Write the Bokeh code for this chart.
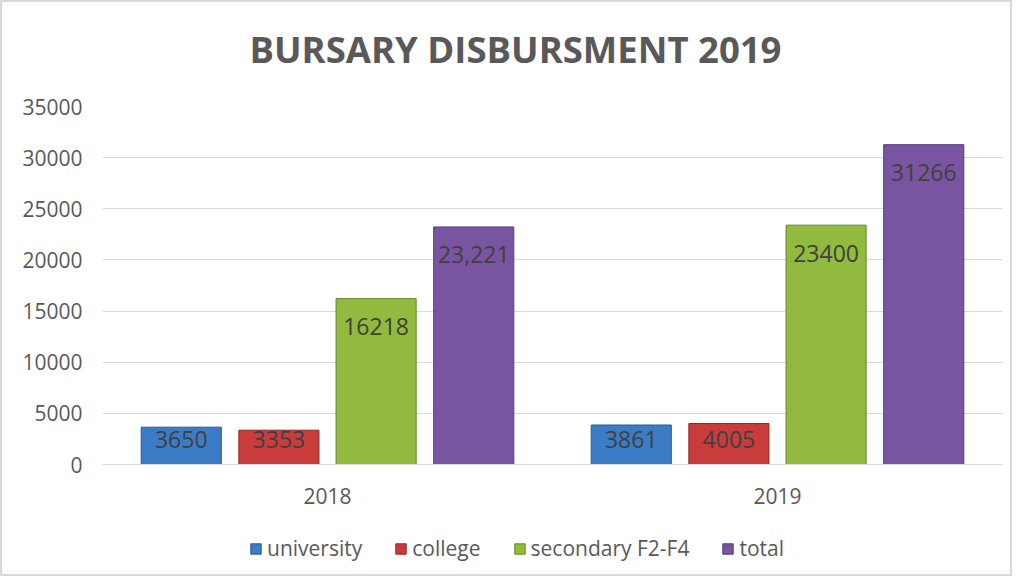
from bokeh.plotting import figure
from bokeh.layouts import column
from bokeh.models import (ColumnDataSource, FactorRange, Legend, LegendItem,
                          Range1d, FixedTicker, Label)
from bokeh.transform import dodge
from bokeh.core.properties import value
from bokeh.embed import file_html
from bokeh.resources import INLINE

# ---- data ----
title_text = "BURSARY DISBURSMENT 2019"
years = ["2018", "2019"]
series_names = ["university", "college", "secondary F2-F4", "total"]
university = [3650, 3861]
college = [3353, 4005]
secondary = [16218, 23400]
total = [23221, 31266]
labels_university = ["3650", "3861"]
labels_college = ["3353", "4005"]
labels_secondary = ["16218", "23400"]
labels_total = ["23,221", "31266"]
y_ticks = [0, 5000, 10000, 15000, 20000, 25000, 30000, 35000]

series_values = [university, college, secondary, total]
series_labels = [labels_university, labels_college, labels_secondary, labels_total]
fills = ["#3c7bc6", "#c83d3c", "#91ba3e", "#7955a1"]
lines = ["#2a5a94", "#8e2626", "#66862a", "#553b78"]
offsets = [-0.325, -0.108, 0.108, 0.325]
bar_w = 0.178

FONT = "Open Sans"
GRAY = "#595959"
W = 1008

# ---- title strip ----
tt = figure(width=W, height=80, output_backend="svg", toolbar_location=None,
            x_axis_type=None, y_axis_type=None, min_border=0,
            x_range=Range1d(0, 1), y_range=Range1d(0, 1))
tt.outline_line_color = None
tt.grid.grid_line_color = None
tt.border_fill_color = "white"
tt.add_layout(Label(x=147, y=34, x_units="screen", y_units="screen",
                    text=title_text, text_font=FONT, text_font_size="36.5px",
                    text_font_style="bold", text_color=GRAY,
                    text_baseline="middle", text_align="left"))

# ---- main chart ----
p = figure(x_range=FactorRange(*years, range_padding=0),
           y_range=Range1d(0, 35000),
           width=W, height=440,
           output_backend="svg", toolbar_location=None,
           min_border_left=100, min_border_right=8,
           min_border_top=24, min_border_bottom=58)
p.outline_line_color = None
p.background_fill_color = "white"
p.border_fill_color = "white"

p.xgrid.grid_line_color = None
p.ygrid.grid_line_color = "#d9d9d9"
p.ygrid.grid_line_width = 1

p.yaxis.ticker = FixedTicker(ticks=y_ticks)
p.yaxis.axis_line_color = None
p.yaxis.major_tick_line_color = None
p.yaxis.minor_tick_line_color = None
p.yaxis.major_label_text_font = FONT
p.yaxis.major_label_text_font_size = "21px"
p.yaxis.major_label_text_color = GRAY
p.yaxis.major_label_standoff = 14

p.xaxis.axis_line_color = "#d9d9d9"
p.xaxis.major_tick_line_color = None
p.xaxis.minor_tick_line_color = None
p.xaxis.major_label_text_font = FONT
p.xaxis.major_label_text_font_size = "21px"
p.xaxis.major_label_text_color = GRAY
p.xaxis.major_label_standoff = 17

for name, vals, labs, fc, lc, off in zip(series_names, series_values, series_labels,
                                         fills, lines, offsets):
    src = ColumnDataSource(dict(year=years, value=vals, label=labs))
    p.vbar(x=dodge("year", off, range=p.x_range), top="value", width=bar_w,
           source=src, fill_color=fc, line_color=lc, line_width=1)
    big = ColumnDataSource(dict(year=[y for y, v in zip(years, vals) if v >= 8000],
                                value=[v for v in vals if v >= 8000],
                                label=[l for l, v in zip(labs, vals) if v >= 8000]))
    small = ColumnDataSource(dict(year=[y for y, v in zip(years, vals) if v < 8000],
                                  value=[0 for v in vals if v < 8000],
                                  label=[l for l, v in zip(labs, vals) if v < 8000]))
    for s, yo in ((big, 28), (small, -25)):
        p.text(x=dodge("year", off, range=p.x_range), y="value", text="label",
               source=s, y_offset=yo, text_align="center", text_baseline="middle",
               text_font=value(FONT), text_font_size="23px", text_color="#404040")

# ---- legend strip ----
lg = figure(width=W, height=52, output_backend="svg", toolbar_location=None,
            x_axis_type=None, y_axis_type=None, min_border=0,
            x_range=Range1d(0, 1), y_range=Range1d(0, 1))
lg.outline_line_color = None
lg.grid.grid_line_color = None
lg.border_fill_color = "white"
items = []
for name, fc, lc in zip(series_names, fills, lines):
    # zero-size swatch renderer: only its legend glyph is visible
    r = lg.vbar(x=[0.5], top=[0], bottom=[0], width=0, fill_color=fc, line_color=lc)
    items.append(LegendItem(label=name, renderers=[r]))
legend = Legend(items=items, orientation="horizontal", location=(147, 12),
                label_text_font=FONT, label_text_font_size="21px",
                label_text_color=GRAY, glyph_width=13, glyph_height=13,
                spacing=32, label_standoff=5, border_line_alpha=0,
                background_fill_alpha=0, margin=0, padding=0)
lg.add_layout(legend, "center")

layout = column(tt, p, lg, spacing=0,
                styles={"border": "2px solid #d9d9d9", "background": "white"})

open("out.html", "w").write(file_html(layout, INLINE))
